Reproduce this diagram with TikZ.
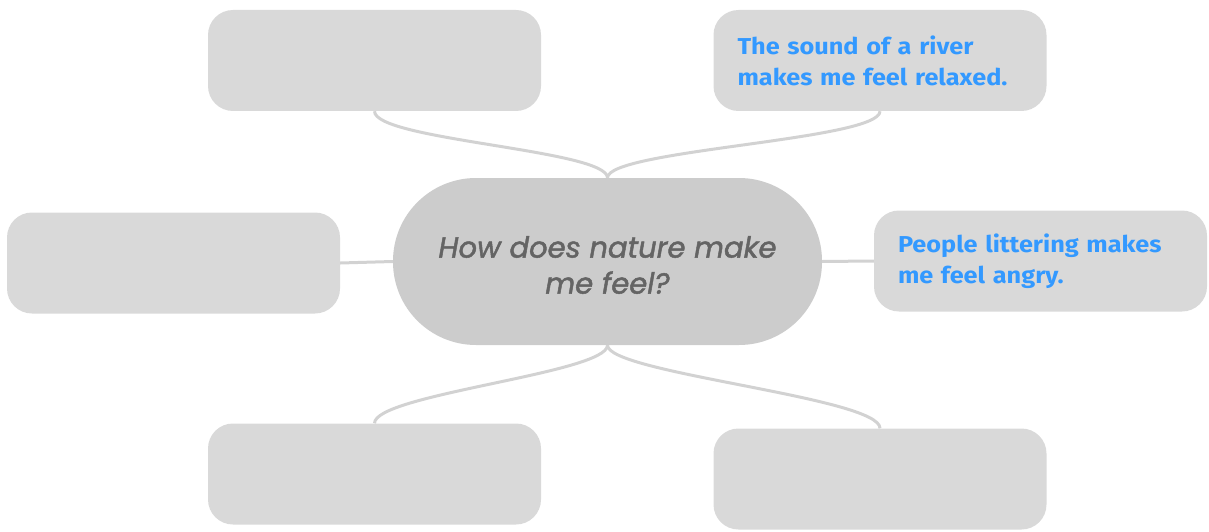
\documentclass[tikz,border=0pt]{standalone}
\usepackage{fontspec}
\setmainfont{Poppins}
\newfontfamily\hubfont{Poppins}[FakeBold=1.6]
\newfontfamily\handfont{Fira Sans}[FakeStretch=1.1]
\definecolor{boxgray}{RGB}{217,217,217}
\definecolor{hubgray}{RGB}{204,204,204}
\definecolor{linkgray}{RGB}{210,210,210}
\definecolor{hubtext}{RGB}{100,100,100}
\definecolor{penblue}{RGB}{51,153,255}
\begin{document}
\begin{tikzpicture}[x=1pt, y=-1pt,
    card/.style={fill=boxgray, rounded corners=25pt, minimum width=333pt,
                 minimum height=101pt, inner sep=0pt, text width=285pt, align=left,
                 text=penblue, font=\handfont\bfseries\fontsize{23}{31}\selectfont},
    hub/.style={fill=hubgray, rounded corners=83pt, minimum width=429pt,
                minimum height=167pt, inner sep=0pt, align=center, text=hubtext,
                font=\hubfont\itshape\fontsize{29}{36}\selectfont},
    link/.style={draw=linkgray, line width=3pt}
  ]
  \useasboundingbox (0,0) rectangle (1209,532);
  % centre question
  \node[hub] (hub) at (607.5,261.5) {};
  \node[text=hubtext, font=\hubfont\itshape\fontsize{29}{36}\selectfont, align=center]
    (question) at (607.5,265) {How does nature make\\me feel?};
  % answer cards
  \node[card] (tl) at (374.5,60.5) {};
  \node[card] (tr) at (880,60.5)   {The sound of a river\\makes me feel relaxed.};
  \node[card] (ml) at (173.5,263)  {};
  \node[card] (mr) at (1040.5,261) {People littering makes\\me feel angry.};
  \node[card] (bl) at (374.5,474)  {};
  \node[card] (br) at (880,479)    {};
  % links
  \draw[link] (hub.north) .. controls +(0,-28) and +(0,29) .. (tl.south);
  \draw[link] (hub.north) .. controls +(0,-28) and +(0,29) .. (tr.south);
  \draw[link] (hub.south) .. controls +(0,28) and +(0,-29) .. (bl.north);
  \draw[link] (hub.south) .. controls +(0,28) and +(0,-31) .. (br.north);
  \draw[link] (hub.west) -- (ml.east);
  \draw[link] (hub.east) -- (mr.west);
\end{tikzpicture}
\end{document}
